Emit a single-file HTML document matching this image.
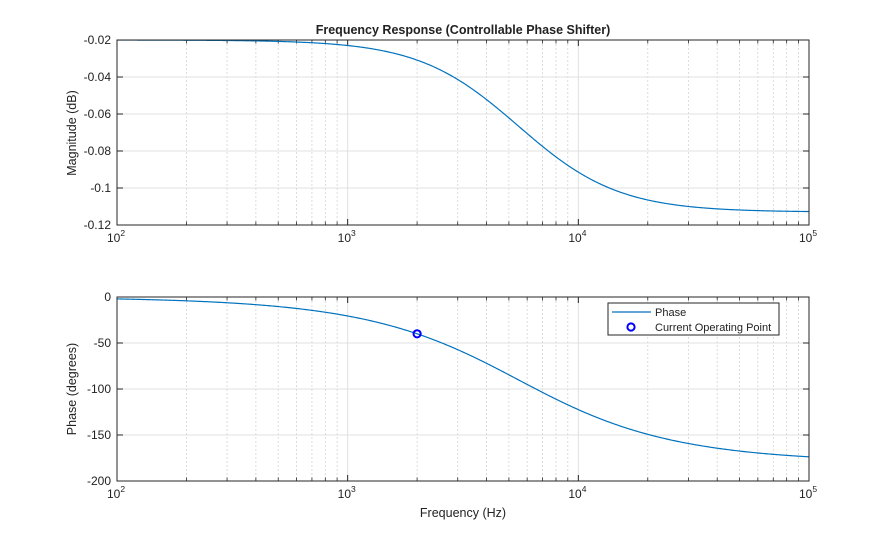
<!DOCTYPE html>
<html><head><meta charset="utf-8"><style>
body{margin:0;background:#fff}
svg{font-family:"Liberation Sans",sans-serif;display:block}
</style></head><body>
<svg id="s" width="895" height="540" xmlns="http://www.w3.org/2000/svg">
<rect width="895" height="540" fill="#fff"/>
<g id="g"></g>
<text x="463" y="34" text-anchor="middle" font-size="12.5" font-weight="bold" fill="#222">Frequency Response (Controllable Phase Shifter)</text>
<text transform="translate(76,133) rotate(-90)" text-anchor="middle" font-size="12.5" fill="#222">Magnitude (dB)</text>
<text transform="translate(76,389) rotate(-90)" text-anchor="middle" font-size="12.5" fill="#222">Phase (degrees)</text>
<text x="463" y="517" text-anchor="middle" font-size="12.5" fill="#222">Frequency (Hz)</text>
</svg>
<script>
const NS="http://www.w3.org/2000/svg",g=document.getElementById('g');
function el(t,a,txt,par){const e=document.createElementNS(NS,t);for(const k in a)e.setAttribute(k,a[k]);if(txt!==undefined)e.textContent=txt;(par||g).appendChild(e);return e;}
const X0=117,X1=809;
const xp=f=>X0+(Math.log10(f)-2)/3*(X1-X0);
const fc=5495;
function axes(T,B,ymin,ymax,yt,fmt,fy){
  const yp=v=>T+(ymax-v)/(ymax-ymin)*(B-T);
  for(let d=2;d<5;d++)for(let k=2;k<10;k++){const x=xp(k*Math.pow(10,d));
    el('line',{x1:x,x2:x,y1:T,y2:B,stroke:'#d4d4d4','stroke-dasharray':'2,2','stroke-width':0.8});
    el('line',{x1:x,x2:x,y1:B,y2:B-3.5,stroke:'#262626','stroke-width':0.8});
    el('line',{x1:x,x2:x,y1:T,y2:T+3.5,stroke:'#262626','stroke-width':0.8});}
  for(let d=3;d<5;d++){const x=xp(Math.pow(10,d));el('line',{x1:x,x2:x,y1:T,y2:B,stroke:'#e0e0e0','stroke-width':1});}
  yt.forEach(v=>{const y=yp(v);el('line',{x1:X0,x2:X1,y1:y,y2:y,stroke:'#e0e0e0','stroke-width':1});
    el('line',{x1:X0,x2:X0+6,y1:y,y2:y,stroke:'#262626'});el('line',{x1:X1-6,x2:X1,y1:y,y2:y,stroke:'#262626'});
    el('text',{x:111,y:y+4,'text-anchor':'end','font-size':12,fill:'#222'},fmt(v));});
  for(let d=2;d<=5;d++){const x=xp(Math.pow(10,d));
    el('line',{x1:x,x2:x,y1:B,y2:B-6,stroke:'#262626'});el('line',{x1:x,x2:x,y1:T,y2:T+6,stroke:'#262626'});
    const t=el('text',{x:x-10,y:B+17,'font-size':12,fill:'#222'},'10');
    el('tspan',{dy:-6,'font-size':8.5},String(d),t);}
  let p='';for(let i=0;i<=600;i++){const f=Math.pow(10,2+3*i/600);p+=(i?'L':'M')+xp(f).toFixed(2)+','+yp(fy(f)).toFixed(2);}
  el('path',{d:p,fill:'none',stroke:'#0072bd','stroke-width':1.2});
  el('rect',{x:X0,y:T,width:X1-X0,height:B-T,fill:'none',stroke:'#262626','stroke-width':1});
  return yp;
}
axes(40,225,-0.12,-0.02,[-0.02,-0.04,-0.06,-0.08,-0.1,-0.12],v=>String(+v.toFixed(2)),f=>{const x2=(f/fc)**2;return -0.02-0.093*x2/(1+x2);});
const yp=axes(297,481,-200,0,[0,-50,-100,-150,-200],v=>String(v),f=>-2*Math.atan(f/fc)*180/Math.PI);
el('circle',{cx:xp(2000),cy:yp(-40),r:3.6,fill:'none',stroke:'#0000ff','stroke-width':2});
el('rect',{x:608,y:303,width:171,height:32,fill:'#fff',stroke:'#262626','stroke-width':1});
el('line',{x1:612,x2:651,y1:312,y2:312,stroke:'#0072bd','stroke-width':1.2});
el('text',{x:655,y:316,'font-size':11,fill:'#222'},'Phase');
el('circle',{cx:631,cy:327,r:3.6,fill:'none',stroke:'#0000ff','stroke-width':2});
el('text',{x:655,y:331,'font-size':11,fill:'#222'},'Current Operating Point');
</script>
</body></html>
